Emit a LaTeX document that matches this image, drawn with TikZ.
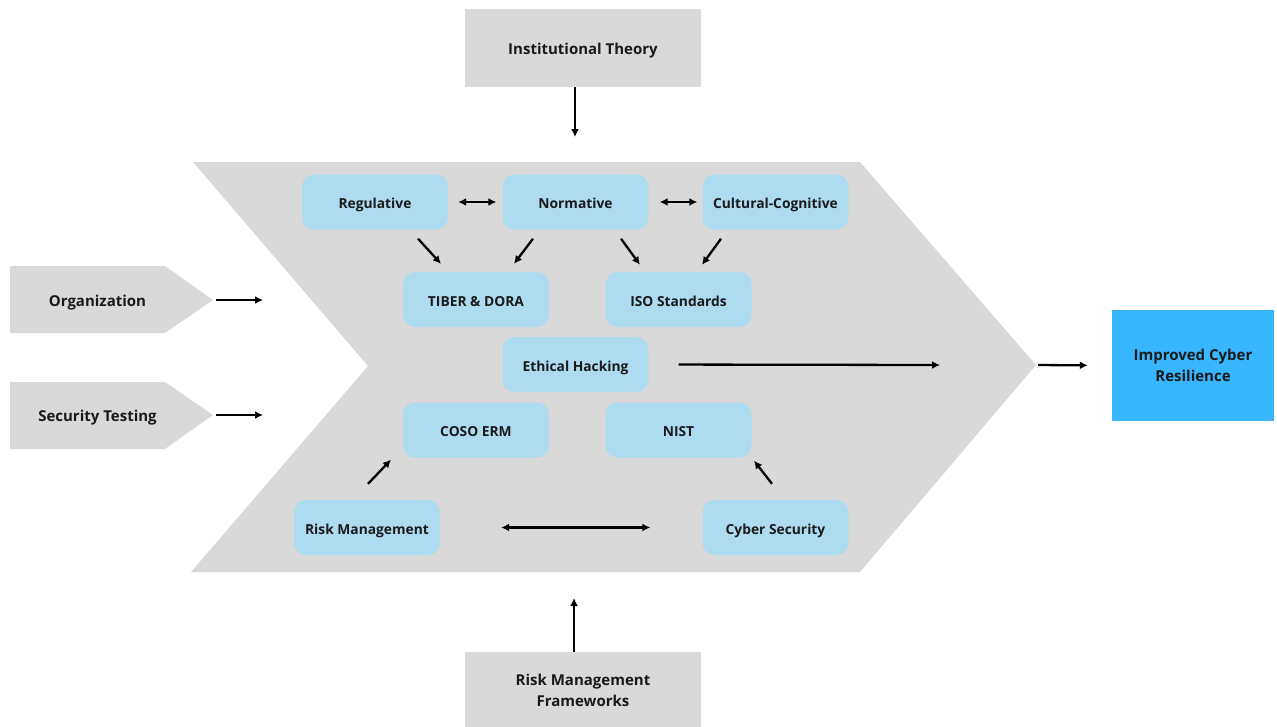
\documentclass[tikz,border=0pt]{standalone}
\usepackage{fontspec}
\setmainfont{Open Sans}
\usetikzlibrary{arrows.meta,calc}
\definecolor{greyfill}{HTML}{D9D9D9}
\definecolor{lightblue}{HTML}{ADDCF0}
\definecolor{brightblue}{HTML}{38B6FF}
\definecolor{inkcol}{HTML}{1A1A1A}
\begin{document}
\begin{tikzpicture}[x=1pt,y=-1pt,
  innerbox/.style={fill=lightblue, rounded corners=12pt, minimum width=146pt, minimum height=55pt, inner sep=0pt, text=inkcol, text height=14pt, text depth=1pt, font=\bfseries\fontsize{13.8}{16}\selectfont},
  outerbox/.style={fill=greyfill, minimum width=236pt, inner sep=0pt, text=inkcol, align=center, font=\bfseries\fontsize{15}{21}\selectfont},
  sidelabel/.style={text=inkcol, text height=11pt, text depth=3pt, font=\bfseries\fontsize{15}{18}\selectfont},
  arr/.style={line width=2.3pt, draw=black, -{Latex[length=8pt,width=8pt]}},
  darr/.style={line width=2.3pt, draw=black, {Latex[length=8pt,width=8pt]}-{Latex[length=8pt,width=8pt]}}
]
\useasboundingbox (0,0) rectangle (1277,726);

% big chevron
\fill[greyfill] (193,162) -- (860,162) -- (1036,365) -- (860,572) -- (191,572) -- (368,366) -- cycle;
\coordinate (chevtip) at (1036,365);

% left pentagons
\fill[greyfill] (10,266) -- (165,266) -- (213,300) -- (165,333) -- (10,333) -- cycle;
\coordinate (orgtip) at (213,300);
\coordinate (orgend) at (263,300);
\node[sidelabel] (org) at (97.5,302) {Organization};
\fill[greyfill] (10,382) -- (165,382) -- (213,415) -- (165,449) -- (10,449) -- cycle;
\coordinate (sectip) at (213,415);
\coordinate (secend) at (263,415);
\node[sidelabel] (sec) at (97.5,417) {Security Testing};

% top and bottom boxes
\node[outerbox, minimum height=78pt, text height=13pt, text depth=1pt] (inst) at (583,48) {Institutional Theory};
\coordinate (instend) at (575,137);
\node[outerbox, minimum height=76pt] (rmf) at (583,690) {Risk Management\\Frameworks};
\coordinate (rmfend) at (574,598);

% result box
\node[fill=brightblue, minimum width=162pt, minimum height=111pt, inner sep=0pt, align=center, text=inkcol, font=\bfseries\fontsize{15}{21}\selectfont] (res) at (1193,365.5) {Improved Cyber\\Resilience};

% inner boxes
\node[innerbox] (reg) at (375,202) {Regulative};
\node[innerbox] (norm) at (575.5,202) {Normative};
\node[innerbox] (cult) at (775.5,202) {Cultural-Cognitive};
\node[innerbox] (tiber) at (476,299.5) {TIBER \& DORA};
\node[innerbox] (iso) at (678.5,299.5) {ISO Standards};
\node[innerbox] (eth) at (575.5,364.5) {Ethical Hacking};
\node[innerbox] (coso) at (476,430) {COSO ERM};
\node[innerbox] (nist) at (678.5,430) {NIST};
\node[innerbox] (risk) at (367,527.5) {Risk Management};
\node[innerbox] (cyb) at (775.5,527.5) {Cyber Security};
\coordinate (ethend) at (940,365);

% connectors
\draw[arr] ($(inst.south)+(-8,0)$) -- (instend);
\draw[arr] ($(rmf.north)+(-9,0)$) -- (rmfend);
\draw[arr, shorten <=3pt] (orgtip) -- (orgend);
\draw[arr, shorten <=3pt] (sectip) -- (secend);
\draw[arr, shorten <=2pt, shorten >=24pt] (chevtip) -- (res.west);
\draw[arr, shorten <=30pt] (eth.east) -- (ethend);

\draw[darr, shorten <=10pt, shorten >=6pt] (reg.east) -- (norm.west);
\draw[darr, shorten <=11pt, shorten >=5pt] (norm.east) -- (cult.west);
\draw[arr] ($(reg.south)+(43,9)$) -- ($(tiber.north)+(-35,-8)$);
\draw[arr] ($(norm.south)+(-42.5,9)$) -- ($(tiber.north)+(38,-8)$);
\draw[arr] ($(norm.south)+(45.5,9)$) -- ($(iso.north)+(-38.5,-7)$);
\draw[arr] ($(cult.south)+(-54.5,9)$) -- ($(iso.north)+(23.5,-7)$);
\draw[arr] ($(risk.north)+(1,-16)$) -- ($(coso.south)+(-85,2)$);
\draw[arr] ($(cyb.north)+(-3.5,-16)$) -- ($(nist.south)+(75.5,3)$);
\draw[darr, shorten <=61pt, shorten >=52pt] (risk.east) -- (cyb.west);
\end{tikzpicture}
\end{document}
